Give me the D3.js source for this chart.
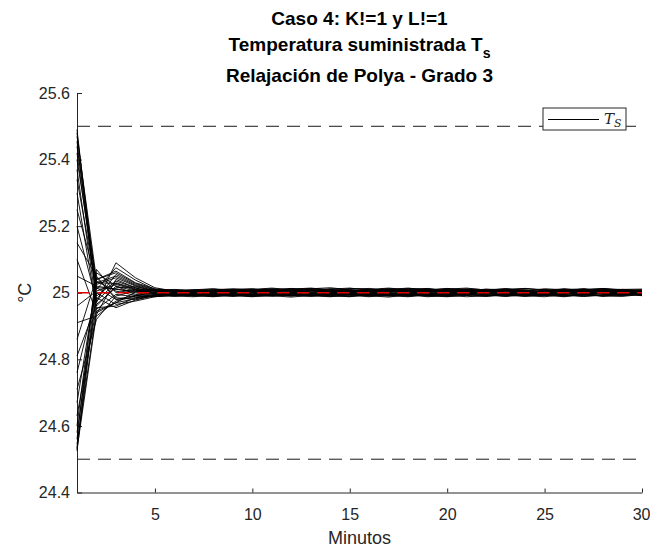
<!DOCTYPE html>
<html>
<head>
<meta charset="utf-8">
<script src="https://cdn.jsdelivr.net/npm/d3@7"></script>
<style>
  body { margin: 0; background: #fff; }
  svg { display: block; font-family: "Liberation Sans", Arial, sans-serif; }
</style>
</head>
<body>
<div id="svg-container"></div>
<script>
//datos
const minutos = [1, 2, 3, 4, 5, 6, 7, 8, 9, 10, 11, 12, 13, 14, 15, 16, 17, 18, 19, 20, 21, 22, 23, 24, 25, 26, 27, 28, 29, 30]
const referencia = 25
const limiteSup = 25.5
const limiteInf = 24.5
const xTicks = [5, 10, 15, 20, 25, 30]
const yTicks = [24.4, 24.6, 24.8, 25, 25.2, 25.4, 25.6]
const tituloLineas = ['Caso 4: K!=1 y L!=1', 'Temperatura suministrada T', 'Relajación de Polya - Grado 3']

//desviacion de cada curva respecto a la referencia, en milesimas de grado
const desviaciones = [
  [490, -30, 90, 45, 15, 5, -4, -8, -5, 2, 8, 12, 10, 4, -3, -8, -6, 0, 6, 9, 5, -2, -7, -9, -4, 3, 8, 10, 6, 1],
  [480, 10, 75, 38, 10, 2, -6, -10, -6, 1, 6, 9, 13, 8, 0, -7, -10, -5, 3, 8, 10, 6, -1, -6, -8, -3, 4, 9, 7, 2],
  [470, 40, 65, 30, 12, 6, 1, -3, -9, -12, -7, 0, 7, 12, 9, 3, -4, -9, -7, -1, 6, 11, 8, 1, -5, -10, -6, 2, 8, 5],
  [455, -20, 55, 25, 8, -2, -9, -12, -7, 0, 8, 11, 6, -1, -8, -12, -5, 4, 10, 8, 1, -6, -10, -4, 5, 11, 9, 2, -5, -3],
  [440, 25, 45, 20, 4, -5, -8, -3, 3, 9, 12, 7, -2, -9, -11, -4, 5, 11, 12, 6, -3, -9, -8, 0, 7, 12, 6, -1, -8, -6],
  [420, -10, 35, 15, 0, -7, -4, 2, 7, 6, 0, -6, -10, -5, 4, 10, 8, 1, -6, -10, -3, 5, 9, 6, -2, -8, -7, 0, 6, 4],
  [400, 30, 28, 10, -3, -9, -6, 1, 5, 10, 14, 9, 1, -5, -2, 5, 9, 3, -5, -11, -8, 1, 8, 13, 9, 0, -6, -9, -2, 4],
  [370, -40, 20, 5, -6, -3, 4, 8, 4, -3, -9, -13, -8, 0, 7, 4, -2, -8, -3, 6, 12, 9, 2, -5, -9, -4, 4, 11, 10, 3],
  [340, 15, 12, 0, -8, -11, -5, 3, 9, 11, 6, -1, -7, -4, 3, 8, 12, 7, 0, -7, -12, -9, -1, 7, 10, 5, -3, -10, -11, -5],
  [300, -50, -5, -12, -10, -4, 3, 7, 2, -5, -8, -3, 5, 11, 14, 8, 0, -6, -9, -2, 6, 10, 4, -4, -7, 1, 9, 13, 7, 0],
  [250, 35, 5, -8, -12, -7, 0, 6, 10, 7, 1, -5, -9, -12, -6, 2, 9, 13, 8, 1, -4, -1, 6, 9, 3, -5, -11, -7, 1, 6],
  [200, -25, 30, 12, 6, 9, 5, -1, -7, -10, -4, 4, 9, 5, -2, -9, -13, -6, 3, 9, 7, 0, -7, -11, -6, 2, 8, 5, -1, -7],
  [150, 50, -20, -15, -5, 2, 8, 11, 6, 0, -6, -10, -4, 5, 13, 10, 3, -4, -10, -8, -1, 7, 12, 8, 0, -7, -3, 5, 10, 8],
  [100, -60, -30, -18, -8, 0, 5, 2, -4, -8, -2, 6, 12, 15, 9, 2, -5, -11, -6, 3, 10, 6, -2, -9, -12, -5, 3, 8, 4, -2],
  [50, 20, 10, 4, 8, 4, -2, -7, -11, -6, 1, 8, 12, 7, -1, -8, -4, 3, 9, 11, 5, -2, -8, -5, 2, 9, 12, 6, -2, -9],
  [-40, 5, 25, 8, -2, -6, -10, -5, 1, 6, 10, 4, -3, -9, -12, -5, 2, 10, 13, 7, 0, -7, -10, -3, 5, 10, 7, 0, -6, -4],
  [-90, -70, -25, -10, 3, 7, 9, 4, -2, -8, -11, -6, 2, 9, 6, 0, -7, -3, 5, 11, 14, 8, 1, -6, -9, -2, 6, 12, 9, 2],
  [-140, 45, -15, -20, -10, -2, 4, 9, 12, 8, 2, -4, -8, -2, 6, 11, 7, -1, -9, -12, -7, 1, 7, 4, -3, -10, -8, -1, 5, 9],
  [-190, -35, 15, 18, 5, -4, -8, -11, -6, 2, 9, 13, 8, 0, -6, -3, 4, 9, 5, -2, -8, -11, -4, 5, 12, 9, 1, -5, -9, -3],
  [-240, 0, -35, -25, -12, -6, 0, 6, 9, 4, -3, -8, -11, -5, 3, 10, 14, 9, 2, -5, -2, 6, 11, 7, -1, -7, -11, -6, 2, 7],
  [-290, -80, -10, 6, 10, 7, 2, -4, -9, -5, 3, 10, 7, 1, -5, -10, -8, 0, 8, 12, 6, -1, -6, -10, -4, 4, 10, 12, 5, -3],
  [-330, 30, 50, 22, 6, 0, -7, -9, -3, 5, 11, 9, 2, -4, -10, -7, 1, 8, 11, 4, -4, -9, -6, 1, 8, 5, -2, -8, -5, 1],
  [-370, -45, -40, -15, -9, -3, 3, 8, 5, -1, -6, -9, -3, 4, 11, 13, 6, -2, -8, -6, 2, 9, 12, 5, -3, -9, -5, 3, 9, 6],
  [-400, 60, 20, -5, -11, -8, -2, 5, 10, 12, 5, -2, -8, -11, -5, 3, 7, 2, -5, -9, -3, 6, 10, 13, 7, 0, -7, -10, -4, 2],
  [-420, -15, -45, -22, -7, 1, 7, 3, -3, -9, -7, 0, 6, 10, 5, -3, -9, -12, -5, 4, 9, 4, -3, -8, -1, 7, 11, 6, -1, -6],
  [-440, 70, 0, 10, 2, -4, -9, -6, 0, 7, 10, 5, -1, -7, -3, 4, 10, 14, 8, 0, -6, -10, -8, -1, 6, 2, -5, -10, -6, 3],
  [-455, -55, -30, 2, 7, 10, 6, 0, -6, -11, -8, 0, 7, 4, -3, -9, -6, 2, 8, 13, 10, 2, -5, -8, -2, 6, 11, 5, -3, -8],
  [-465, 40, 60, 28, 9, 3, -3, -8, -10, -4, 4, 11, 14, 9, 2, -4, -9, -5, 3, 7, 2, -5, -11, -7, 1, 8, 4, -3, -7, -1],
  [-470, -65, 40, 15, -4, -10, -12, -6, 3, 9, 6, -1, -6, -9, 0, 8, 12, 6, -1, -4, 4, 10, 7, -1, -8, -12, -4, 4, 10, 11],
  [-475, 15, -20, -8, 0, 4, 9, 12, 7, 1, -5, -9, -5, 2, 8, 6, -1, -7, -12, -8, 0, 7, 5, -2, -6, 3, 10, 8, 1, -5]
]

//grootte van het venster
const width = 650
const height = 548
const margin = { top: 93, right: 8, bottom: 55.5, left: 77 }
const innerWidth = width - margin.left - margin.right
const innerHeight = height - margin.top - margin.bottom
const ejeColor = '#262626'

const svg = d3.select('#svg-container')
  .append('svg').attr('width', width).attr('height', height)

const g = svg.append('g')
  .attr('transform', `translate(${margin.left}, ${margin.top})`)

//escalas
const xScale = d3.scaleLinear()
  .domain([minutos[0], minutos[minutos.length - 1]])
  .range([0, innerWidth])

const yScale = d3.scaleLinear()
  .domain([yTicks[0], yTicks[yTicks.length - 1]])
  .range([innerHeight, 0])

//ejes con marcas hacia dentro (estilo matlab)
const xAxis = d3.axisBottom(xScale)
  .tickValues(xTicks)
  .tickSizeInner(-4)
  .tickSizeOuter(0)
  .tickPadding(16)

const yAxis = d3.axisLeft(yScale)
  .tickValues(yTicks)
  .tickSizeInner(-5)
  .tickSizeOuter(0)
  .tickPadding(7)
  .tickFormat(d => String(+d.toFixed(1)))

const xAxisG = g.append('g')
  .attr('transform', `translate(0, ${innerHeight})`)
  .call(xAxis)

const yAxisG = g.append('g').call(yAxis)

for (const a of [xAxisG, yAxisG]) {
  a.selectAll('path, line').attr('stroke', ejeColor).attr('stroke-width', 1)
  a.selectAll('text')
    .attr('fill', ejeColor)
    .style('font-size', '16px')
    .style('font-family', '"Liberation Sans", Arial, sans-serif')
}
//ultima etiqueta pegada al borde, como en la figura
xAxisG.selectAll('.tick:last-of-type text').attr('text-anchor', 'end').attr('x', 8)

//lineas de limite
const lineaH = v => [[minutos[0], v], [minutos[minutos.length - 1], v]]
const line2 = d3.line().x(d => xScale(d[0])).y(d => yScale(d[1]))

for (const lim of [limiteSup, limiteInf]) {
  g.append('path')
    .attr('d', line2(lineaH(lim)))
    .attr('fill', 'none')
    .attr('stroke', '#1a1a1a')
    .attr('stroke-width', 1)
    .attr('stroke-dasharray', '13,8')
}

//curvas de temperatura
const linea = d3.line()
  .x((d, i) => xScale(minutos[i]))
  .y(d => yScale(referencia + d / 1000))

g.append('g')
  .selectAll('path')
  .data(desviaciones)
  .enter()
  .append('path')
  .attr('d', linea)
  .attr('fill', 'none')
  .attr('stroke', '#000')
  .attr('stroke-width', 0.9)

//referencia roja
g.append('path')
  .attr('d', line2(lineaH(referencia)))
  .attr('fill', 'none')
  .attr('stroke', '#e00000')
  .attr('stroke-width', 1.3)
  .attr('stroke-dasharray', '12,8')

//leyenda
const leg = g.append('g')
  .attr('transform', `translate(${543 - margin.left}, ${108 - margin.top})`)

leg.append('rect')
  .attr('width', 83).attr('height', 22)
  .attr('fill', '#fff')
  .attr('stroke', ejeColor)
  .attr('stroke-width', 1)

leg.append('line')
  .attr('x1', 5).attr('x2', 56)
  .attr('y1', 11.5).attr('y2', 11.5)
  .attr('stroke', '#000')
  .attr('stroke-width', 1)

const legText = leg.append('text')
  .attr('x', 61).attr('y', 16)
  .attr('fill', ejeColor)
  .style('font-family', '"DejaVu Serif", "Liberation Serif", serif')
  .style('font-style', 'italic')
  .style('font-size', '15px')
  .text('T')
legText.append('tspan').attr('dy', 3).style('font-size', '11px').text('S')

//titulo
const cx = margin.left + innerWidth / 2
const titulo = svg.append('text')
  .attr('x', cx)
  .attr('text-anchor', 'middle')
  .attr('fill', '#000')
  .style('font-weight', 'bold')
  .style('font-size', '19px')

titulo.append('tspan').attr('x', cx).attr('y', 25).text(tituloLineas[0])
titulo.append('tspan').attr('x', cx).attr('y', 51).text(tituloLineas[1])
titulo.append('tspan').attr('dy', 7).style('font-size', '14px').text('s')
titulo.append('tspan').attr('x', cx).attr('y', 82).text(tituloLineas[2])

//etiquetas de los ejes
svg.append('text')
  .attr('x', cx)
  .attr('y', 544)
  .attr('text-anchor', 'middle')
  .attr('fill', ejeColor)
  .style('font-size', '18px')
  .text('Minutos')

svg.append('text')
  .attr('transform', `translate(31, ${yScale(referencia) + margin.top}) rotate(-90)`)
  .attr('text-anchor', 'middle')
  .attr('fill', ejeColor)
  .style('font-size', '18px')
  .text('°C')
</script>
</body>
</html>
